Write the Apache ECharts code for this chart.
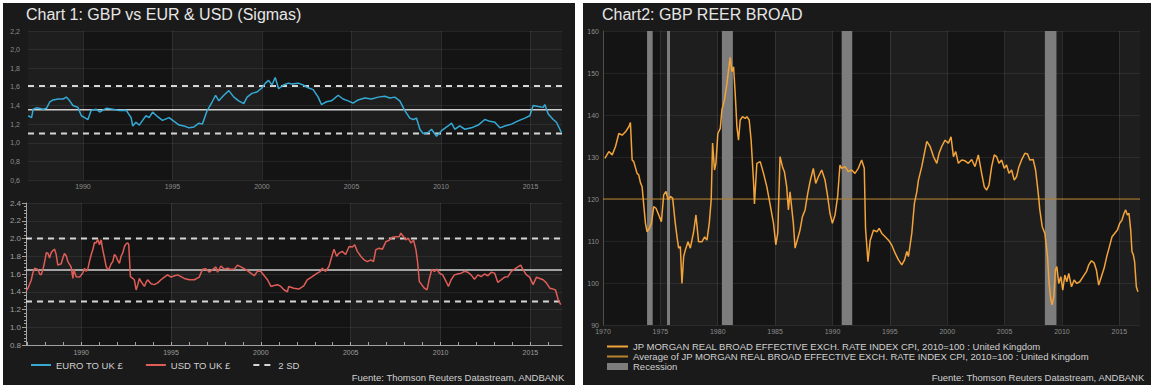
<!DOCTYPE html>
<html><head><meta charset="utf-8">
<script src="https://cdn.jsdelivr.net/npm/echarts@6/dist/echarts.min.js"></script>
<style>html,body{margin:0;padding:0;background:#fff;}#c{width:1155px;height:385px;}</style>
</head><body><div id="c"></div>
<script>
// ---------- DATA ----------
const eurYears = [1986.94,1987.13,1987.22,1987.41,1987.78,1987.96,1988.15,1988.33,1988.61,1988.89,1989.07,1989.26,1989.44,1989.72,1989.91,1990.09,1990.28,1990.46,1990.74,1990.93,1991.30,1991.67,1992.04,1992.41,1992.69,1992.78,1992.96,1993.15,1993.33,1993.52,1993.70,1993.89,1994.17,1994.44,1994.81,1995.09,1995.37,1995.65,1995.93,1996.20,1996.48,1996.67,1996.94,1997.22,1997.41,1997.59,1997.87,1998.15,1998.43,1998.70,1998.98,1999.17,1999.44,1999.72,2000.00,2000.19,2000.37,2000.56,2000.74,2000.93,2001.20,2001.48,
2001.65,2002.02,2002.30,2002.58,2002.86,2003.14,2003.32,2003.60,2003.88,2004.26,2004.53,2004.81,2005.09,2005.37,2005.74,2006.12,2006.49,2006.86,2007.14,2007.42,2007.70,2007.98,2008.26,2008.45,2008.63,2008.82,2009.00,2009.28,2009.47,2009.75,2010.03,2010.40,2010.59,2010.77,2011.05,2011.33,2011.70,2012.08,2012.45,2012.73,2013.01,2013.29,2013.57,2013.94,2014.31,2014.68,2014.96,2015.15,2015.43,2015.71,2015.80,2015.99,2016.27,2016.45,2016.64,2016.73];
const eurValues = [1.29,1.27,1.36,1.375,1.36,1.37,1.44,1.46,1.47,1.47,1.49,1.45,1.40,1.38,1.29,1.27,1.25,1.35,1.36,1.33,1.37,1.36,1.345,1.35,1.27,1.18,1.22,1.19,1.24,1.29,1.27,1.33,1.28,1.24,1.27,1.23,1.19,1.18,1.16,1.17,1.21,1.20,1.345,1.44,1.51,1.45,1.51,1.56,1.49,1.45,1.42,1.49,1.53,1.545,1.59,1.64,1.67,1.62,1.70,1.58,1.62,1.64,
1.63,1.64,1.62,1.59,1.57,1.49,1.41,1.44,1.45,1.51,1.47,1.45,1.425,1.46,1.48,1.47,1.49,1.50,1.48,1.49,1.45,1.345,1.265,1.25,1.265,1.145,1.10,1.11,1.145,1.07,1.13,1.18,1.21,1.145,1.18,1.145,1.16,1.19,1.25,1.23,1.22,1.16,1.18,1.20,1.235,1.265,1.29,1.40,1.39,1.38,1.41,1.31,1.25,1.22,1.145,1.11];

const usdYears = [1986.95,1987.04,1987.22,1987.31,1987.41,1987.59,1987.69,1987.78,1987.87,1987.96,1988.06,1988.15,1988.24,1988.33,1988.43,1988.52,1988.61,1988.70,1988.89,1988.98,1989.07,1989.17,1989.26,1989.44,1989.54,1989.59,1989.72,1989.91,1990.09,1990.19,1990.28,1990.37,1990.46,1990.56,1990.65,1990.74,1990.83,1990.93,1991.02,1991.11,1991.20,1991.30,1991.39,1991.48,1991.57,1991.67,1991.76,1991.85,1991.94,1992.04,1992.13,1992.22,1992.31,1992.41,1992.50,1992.59,1992.65,1992.74,1992.87,1992.96,1993.06,1993.15,1993.24,1993.33,1993.52,1993.61,1993.70,1993.89,1994.07,1994.26,1994.44,1994.63,1994.81,1995.00,1995.19,1995.37,1995.56,1995.74,1996.02,1996.30,1996.57,1996.76,1996.94,1997.13,1997.31,1997.50,1997.59,1997.78,1997.96,1998.15,1998.33,1998.52,1998.70,1998.89,1999.17,1999.44,1999.63,1999.81,2000.00,2000.19,2000.37,2000.56,2000.74,2000.93,2001.11,2001.30,2001.48,
2001.55,2001.83,2002.11,2002.39,2002.58,2002.86,2003.14,2003.32,2003.42,2003.60,2003.79,2003.98,2004.07,2004.22,2004.35,2004.53,2004.72,2004.91,2005.09,2005.22,2005.37,2005.56,2005.74,2005.93,2006.12,2006.27,2006.40,2006.58,2006.77,2006.96,2007.14,2007.33,2007.51,2007.70,2007.79,2007.94,2008.07,2008.20,2008.35,2008.50,2008.63,2008.72,2008.82,2008.95,2009.10,2009.25,2009.38,2009.51,2009.66,2009.80,2009.93,2010.12,2010.31,2010.44,2010.59,2010.77,2010.96,2011.15,2011.33,2011.52,2011.70,2011.89,2012.08,2012.26,2012.45,2012.64,2012.82,2013.01,2013.19,2013.38,2013.57,2013.75,2013.94,2014.12,2014.31,2014.46,2014.59,2014.78,2014.96,2015.15,2015.34,2015.52,2015.71,2015.89,2016.08,2016.27,2016.40,2016.55,2016.69];
const usdValues = [1.41,1.44,1.53,1.61,1.665,1.65,1.60,1.59,1.65,1.73,1.84,1.835,1.78,1.84,1.865,1.88,1.82,1.70,1.715,1.78,1.83,1.805,1.74,1.68,1.55,1.65,1.57,1.565,1.61,1.665,1.63,1.655,1.74,1.82,1.875,1.955,1.95,1.99,1.93,1.985,1.875,1.78,1.685,1.65,1.665,1.715,1.74,1.82,1.80,1.75,1.72,1.80,1.835,1.91,1.94,1.95,1.93,1.57,1.55,1.535,1.42,1.48,1.55,1.515,1.46,1.505,1.535,1.49,1.48,1.50,1.535,1.565,1.59,1.565,1.58,1.59,1.57,1.55,1.535,1.535,1.565,1.655,1.66,1.62,1.65,1.68,1.62,1.69,1.655,1.665,1.65,1.655,1.70,1.68,1.65,1.61,1.58,1.63,1.63,1.58,1.535,1.46,1.47,1.48,1.46,1.42,1.40,
1.46,1.44,1.43,1.465,1.535,1.57,1.61,1.63,1.665,1.63,1.685,1.82,1.88,1.80,1.835,1.855,1.82,1.91,1.905,1.93,1.855,1.80,1.76,1.74,1.76,1.74,1.875,1.89,1.88,1.965,1.98,2.015,2.02,2.02,2.06,2.02,1.985,2.005,1.95,1.98,1.875,1.74,1.515,1.48,1.44,1.42,1.55,1.65,1.63,1.655,1.61,1.59,1.515,1.46,1.535,1.59,1.60,1.61,1.63,1.62,1.59,1.54,1.59,1.57,1.60,1.58,1.62,1.61,1.505,1.535,1.565,1.57,1.63,1.655,1.68,1.70,1.65,1.59,1.565,1.48,1.565,1.55,1.535,1.50,1.44,1.43,1.42,1.31,1.255];

const reerYears = [1970.16,1970.51,1970.80,1971.09,1971.38,1971.67,1971.96,1972.25,1972.39,1972.54,1972.68,1972.97,1973.12,1973.26,1973.41,1973.55,1973.70,1973.84,1974.04,1974.22,1974.42,1974.62,1974.86,1975.09,1975.29,1975.49,1975.67,1975.87,1976.07,1976.30,1976.45,1976.59,1976.74,1976.88,1977.03,1977.17,1977.41,1977.61,1977.90,1978.10,1978.33,1978.62,1978.86,1979.06,1979.26,1979.43,1979.55,1979.72,1979.84,1980.01,1980.22,1980.36,1980.59,1980.80,1980.94,1981.09,1981.23,1981.38,1981.52,1981.67,1981.81,1981.96,1982.16,1982.39,1982.54,1982.74,1982.91,1983.12,1983.20,1983.41,1983.70,1983.99,1984.28,1984.57,1984.86,1985.06,1985.23,1985.43,1985.64,1985.81,1986.01,1986.16,1986.30,1986.59,1986.74,1986.97,1987.17,1987.38,1987.61,1987.84,1988.04,1988.33,1988.54,1988.77,1989.06,1989.35,1989.58,1989.78,1989.99,1990.22,1990.45,1990.65,1990.80,1991.09,1991.38,1991.67,1991.96,1992.25,1992.54,1992.77,1992.88,
1993.09,1993.29,1993.58,1993.87,1994.07,1994.30,1994.59,1994.88,1995.17,1995.46,1995.75,1996.04,1996.28,1996.48,1996.62,1996.91,1997.14,1997.35,1997.49,1997.78,1998.07,1998.22,1998.51,1998.80,1999.09,1999.29,1999.52,1999.81,2000.10,2000.33,2000.54,2000.74,2000.97,2001.26,2001.55,2001.84,2002.13,2002.42,2002.71,2003.00,2003.23,2003.43,2003.64,2003.87,2004.10,2004.30,2004.51,2004.74,2004.97,2005.17,2005.38,2005.61,2005.84,2006.04,2006.25,2006.48,2006.77,2007.00,2007.20,2007.49,2007.70,2007.87,2007.99,2008.07,2008.28,2008.51,2008.74,2008.88,2009.03,2009.14,2009.29,2009.43,2009.55,2009.72,2009.90,2010.07,2010.25,2010.42,2010.59,2010.83,2011.06,2011.29,2011.55,2011.84,2012.13,2012.33,2012.57,2012.80,2013.00,2013.20,2013.43,2013.67,2013.90,2014.13,2014.36,2014.59,2014.83,2015.03,2015.23,2015.41,2015.55,2015.70,2015.84,2015.99,2016.10,2016.22,2016.33,2016.48,2016.62];
const reerValues = [129.7,131.3,130.5,132.5,135.6,135.2,136.0,137.2,138.2,129.3,128.9,126.1,125.7,123.9,122.9,118.6,114.2,112.2,113.0,114.2,118.2,117.8,116.2,114.6,121.0,121.8,119.8,120.6,120.2,114.2,111.0,108.3,108.7,99.9,106.3,107.8,109.8,108.3,112.2,116.2,109.8,109.8,111.0,110.2,114.2,119.8,133.3,126.9,128.5,135.6,136.8,141.2,143.6,147.5,150.7,153.7,150.3,151.5,145.2,137.2,134.0,138.8,139.6,139.2,139.6,138.8,134.0,124.1,118.8,128.5,128.9,126.1,122.9,118.6,114.2,109.1,111.9,130.1,127.7,126.5,122.9,117.4,121.7,114.2,108.3,110.6,112.6,115.8,117.4,121.3,124.1,127.3,123.7,125.3,126.9,124.5,120.6,116.6,114.2,116.2,120.6,128.1,127.3,127.7,126.5,126.9,126.1,127.3,129.3,127.3,113.0,
105.1,110.2,112.6,112.2,113.0,111.8,111.0,110.2,109.0,107.1,105.5,104.3,105.5,107.5,106.3,111.8,119.0,121.7,124.5,127.7,131.7,133.7,132.5,130.1,128.5,130.9,132.5,134.0,133.3,134.8,130.1,131.3,128.5,129.3,129.1,128.5,129.4,127.7,130.5,126.1,122.9,122.1,123.3,127.7,130.5,130.1,128.5,129.3,127.3,128.1,126.1,126.9,124.5,125.3,127.7,129.3,130.9,130.7,129.3,129.4,126.9,122.9,119.8,117.4,113.4,111.8,106.3,99.9,96.0,94.8,96.8,103.1,103.9,99.9,101.5,98.3,101.9,100.3,102.3,99.1,100.7,99.9,100.3,101.5,102.7,104.3,105.3,104.8,103.1,99.5,101.5,103.5,106.3,108.6,111.0,111.8,112.6,114.2,115.0,116.6,117.4,116.2,116.6,112.6,107.5,106.7,105.1,99.1,97.9];

const eurMean = 1.355, eurUpper = 1.61, eurLower = 1.10;
const usdMean = 1.645, usdUpper = 2.00, usdLower = 1.29;
const reerAverage = 120;
const recessionStarts = [1973.84, 1975.58, 1980.36, 1990.80, 2008.51];
const recessionEnds   = [1974.33, 1975.84, 1981.32, 1991.72, 2009.52];

const leftYearLabels = [1990, 1995, 2000, 2005, 2010, 2015];
const leftYearTicks = [1987,1988,1989,1990,1991,1992,1993,1994,1995,1996,1997,1998,1999,2000,2001,2002,2003,2004,2005,2006,2007,2008,2009,2010,2011,2012,2013,2014,2015,2016];
const rightYearLabels = [1970, 1975, 1980, 1985, 1990, 1995, 2000, 2005, 2010, 2015];

const titleLeft = 'Chart 1: GBP vs EUR & USD (Sigmas)';
const titleRight = 'Chart2: GBP REER BROAD';
const sourceText = 'Fuente: Thomson Reuters Datastream, ANDBANK';
const nameEur = 'EURO TO UK £', nameUsd = 'USD TO UK £', nameSd = '2 SD';
const nameReer = 'JP MORGAN REAL BROAD EFFECTIVE EXCH. RATE INDEX CPI, 2010=100 : United Kingdom';
const nameAvg = 'Average of JP MORGAN REAL BROAD EFFECTIVE EXCH. RATE INDEX CPI, 2010=100 : United Kingdom';
const nameRec = 'Recession';

// ---------- CHART ----------
const zip = (a, b) => a.map((x, i) => [x, b[i]]);
const FONT = '"Liberation Sans", Arial, sans-serif';
const lMin = 1986.93, lMax = 2016.76, rMin = 1970, rMax = 2016.8;
const bandL = [[lMin,1990],[1995,2000],[2005,2010],[2015,lMax]];
const bandR = [[1975,1980],[1985,1990],[1995,2000],[2005,2010],[2015,rMax]];
const bandStyle = {color: 'rgba(255,255,255,0.045)'};
const vGrid = (vals) => ({silent: true, symbol: 'none', label: {show: false},
  lineStyle: {color: 'rgba(255,255,255,0.10)', type: 'solid', width: 1},
  data: vals.map(v => ({xAxis: v}))});
const bands = (b) => ({silent: true, itemStyle: bandStyle, label: {show: false},
  data: b.map(p => [{xAxis: p[0]}, {xAxis: p[1]}])});
const splitY = {show: true, lineStyle: {color: 'rgba(255,255,255,0.07)', width: 1}};
const yearFmt = v => String(Math.round(v));
const sdStyle = {color: '#d6d6d6', width: 2, type: [6, 5]};
const meanStyle = {color: '#d0d0d0', width: 1.5};
const srcStyle = {color: '#d0d0d0', fontSize: 9.5, fontWeight: 'normal', fontFamily: FONT};

const chart = echarts.init(document.getElementById('c'), null, {renderer: 'svg', width: 1155, height: 385});
chart.setOption({
  animation: false,
  backgroundColor: '#ffffff',
  textStyle: {fontFamily: FONT},
  graphic: [
    {type: 'rect', z: -10, silent: true, shape: {x: 3, y: 3, width: 572, height: 382}, style: {fill: '#1a1a1a'}},
    {type: 'rect', z: -10, silent: true, shape: {x: 583, y: 3, width: 568, height: 382}, style: {fill: '#1a1a1a'}}
  ],
  title: [
    {text: titleLeft, left: 26, top: 6, padding: 0, textStyle: {color: '#e6e6e6', fontSize: 16, fontWeight: 'normal', fontFamily: FONT}},
    {text: titleRight, left: 602, top: 6, padding: 0, textStyle: {color: '#e6e6e6', fontSize: 16, fontWeight: 'normal', fontFamily: FONT}},
    {text: sourceText, right: 590, top: 372, padding: 0, textStyle: srcStyle},
    {text: sourceText, right: 10, top: 372, padding: 0, textStyle: srcStyle}
  ],
  legend: [
    {data: [nameEur, nameUsd, nameSd], left: 30, top: 360, padding: 0, itemWidth: 20, itemHeight: 10, itemGap: 22,
     itemStyle: {opacity: 0},
     textStyle: {color: '#d0d0d0', fontSize: 9.5, fontFamily: FONT}, selectedMode: false},
    {data: [{name: nameReer}, {name: nameAvg}, {name: nameRec, icon: 'rect', itemStyle: {color: '#7d7d7d', opacity: 1}}],
     orient: 'vertical', left: 606, top: 341.5, padding: 0, itemWidth: 21, itemHeight: 7, itemGap: 0,
     itemStyle: {opacity: 0},
     textStyle: {color: '#d0d0d0', fontSize: 9.5, lineHeight: 9.5, fontFamily: FONT}, selectedMode: false}
  ],
  grid: [
    {left: 28, top: 31, width: 534, height: 149, show: true, backgroundColor: '#141414', borderWidth: 0},
    {left: 26, top: 203, width: 536, height: 142, show: true, backgroundColor: '#141414', borderWidth: 0},
    {left: 603, top: 31, width: 537, height: 294, show: true, backgroundColor: '#141414', borderWidth: 0}
  ],
  xAxis: [
    {gridIndex: 0, type: 'value', min: lMin, max: lMax, splitLine: {show: false}, axisLine: {show: false}, axisTick: {show: false},
     axisLabel: {customValues: leftYearLabels, formatter: yearFmt, color: '#8c8c8c', fontSize: 7, margin: 3}},
    {gridIndex: 1, type: 'value', min: lMin, max: lMax, splitLine: {show: false},
     axisLine: {show: true, lineStyle: {color: '#a0a0a0', width: 1}},
     axisTick: {show: true, inside: true, length: 3, customValues: leftYearTicks, lineStyle: {color: '#a0a0a0'}},
     axisLabel: {customValues: leftYearLabels, formatter: yearFmt, color: '#9c9c9c', fontSize: 7, margin: 4}},
    {gridIndex: 2, type: 'value', min: rMin, max: rMax, splitLine: {show: false}, axisLine: {show: false}, axisTick: {show: false},
     axisLabel: {customValues: rightYearLabels, formatter: yearFmt, color: '#8c8c8c', fontSize: 7, margin: 3}}
  ],
  yAxis: [
    {gridIndex: 0, type: 'value', min: 0.6, max: 2.2, interval: 0.2, splitLine: splitY, axisLine: {show: false}, axisTick: {show: false},
     axisLabel: {formatter: v => v.toFixed(1).replace('.', ','), color: '#8c8c8c', fontSize: 7, margin: 8}},
    {gridIndex: 1, type: 'value', min: 0.8, max: 2.4, interval: 0.2, splitLine: splitY,
     axisLine: {show: true, lineStyle: {color: '#a0a0a0'}},
     axisTick: {show: true, length: 4, lineStyle: {color: '#a0a0a0'}},
     minorTick: {show: true, splitNumber: 5, length: 2, lineStyle: {color: '#a0a0a0'}},
     axisLabel: {formatter: v => v.toFixed(1), color: '#a0a0a0', fontSize: 8, margin: 5}},
    {gridIndex: 2, type: 'value', min: 90, max: 160, interval: 10, splitLine: splitY,
     axisLine: {show: true, lineStyle: {color: '#3c3c3c'}}, axisTick: {show: false},
     axisLabel: {color: '#8c8c8c', fontSize: 7, margin: 4}}
  ],
  series: [
    // top-left
    {name: 'eurMean', type: 'line', xAxisIndex: 0, yAxisIndex: 0, symbol: 'none', silent: true, lineStyle: meanStyle,
     data: [[lMin, eurMean], [lMax, eurMean]], markArea: bands(bandL), markLine: vGrid(leftYearLabels)},
    {name: nameSd, type: 'line', xAxisIndex: 0, yAxisIndex: 0, symbol: 'none', silent: true, lineStyle: sdStyle, itemStyle: {color: '#d6d6d6'},
     data: [[lMin, eurUpper], [lMax, eurUpper]]},
    {name: nameSd, type: 'line', xAxisIndex: 0, yAxisIndex: 0, symbol: 'none', silent: true, lineStyle: sdStyle, itemStyle: {color: '#d6d6d6'},
     data: [[lMin, eurLower], [lMax, eurLower]]},
    {name: nameEur, type: 'line', xAxisIndex: 0, yAxisIndex: 0, symbol: 'none', lineStyle: {color: '#35a9d4', width: 1.5}, itemStyle: {color: '#35a9d4'},
     data: zip(eurYears, eurValues)},
    // bottom-left
    {name: 'usdMean', type: 'line', xAxisIndex: 1, yAxisIndex: 1, symbol: 'none', silent: true, lineStyle: meanStyle,
     data: [[lMin, usdMean], [lMax, usdMean]], markArea: bands(bandL), markLine: vGrid(leftYearLabels)},
    {name: nameSd, type: 'line', xAxisIndex: 1, yAxisIndex: 1, symbol: 'none', silent: true, lineStyle: sdStyle, itemStyle: {color: '#d6d6d6'},
     data: [[lMin, usdUpper], [lMax, usdUpper]]},
    {name: nameSd, type: 'line', xAxisIndex: 1, yAxisIndex: 1, symbol: 'none', silent: true, lineStyle: sdStyle, itemStyle: {color: '#d6d6d6'},
     data: [[lMin, usdLower], [lMax, usdLower]]},
    {name: nameUsd, type: 'line', xAxisIndex: 1, yAxisIndex: 1, symbol: 'none', lineStyle: {color: '#df5d57', width: 1.5}, itemStyle: {color: '#df5d57'},
     data: zip(usdYears, usdValues)},
    // right
    {name: nameAvg, type: 'line', xAxisIndex: 2, yAxisIndex: 2, symbol: 'none', silent: true, lineStyle: {color: '#b9822c', width: 1}, itemStyle: {color: '#b9822c'},
     data: [[rMin, reerAverage], [rMax, reerAverage]], markArea: bands(bandR), markLine: vGrid(rightYearLabels)},
    {name: nameRec, type: 'line', xAxisIndex: 2, yAxisIndex: 2, symbol: 'none', silent: true, data: [], itemStyle: {color: '#7d7d7d'},
     markArea: {silent: true, itemStyle: {color: '#7d7d7d'}, label: {show: false},
       data: recessionStarts.map((s, i) => [{xAxis: s}, {xAxis: recessionEnds[i]}])}},
    {name: nameReer, type: 'line', xAxisIndex: 2, yAxisIndex: 2, symbol: 'none', lineStyle: {color: '#f2a33a', width: 1.5}, itemStyle: {color: '#f2a33a'},
     data: zip(reerYears, reerValues)}
  ]
});
</script></body></html>
